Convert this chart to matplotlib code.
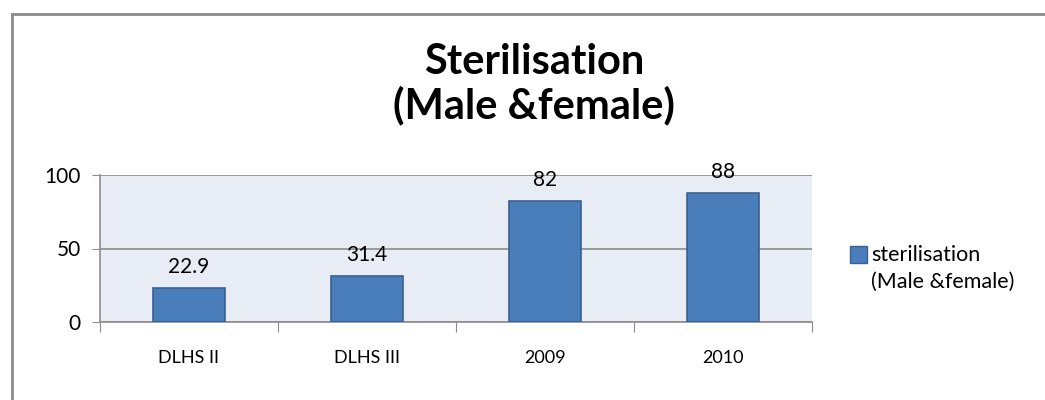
"""Sterilisation (Male & female) bar chart, Excel style."""

import matplotlib.pyplot as plt
from matplotlib.lines import Line2D
from matplotlib.patches import Rectangle

CATEGORIES = ["DLHS II", "DLHS III", "2009", "2010"]
VALUES = [22.9, 31.4, 82, 88]
VALUE_LABELS = ["22.9", "31.4", "82", "88"]
SERIES_NAME = ["sterilisation", "(Male &female)"]
TITLE = ["Sterilisation", "(Male &female)"]
Y_TICKS = [0, 50, 100]

plt.rcParams["font.family"] = ["Lato", "DejaVu Sans"]

BAR = "#4a7ebb"
EDGE = "#3a6190"
GRID = "#8c8c8c"

fig = plt.figure(figsize=(10.45, 4.0), dpi=100)
W, H = 1045, 400
ax = fig.add_axes([100 / W, 1 - 322 / H, 712 / W, 147 / H])
ax.set_facecolor("#e8ecf4")

x = range(len(CATEGORIES))
ax.bar(x, VALUES, width=0.4, color=BAR, edgecolor=EDGE, linewidth=1.2, zorder=3)
for xi, v, lab in zip(x, VALUES, VALUE_LABELS):
    ax.annotate(lab, (xi, v), xytext=(0, 8), textcoords="offset points", ha="center", va="bottom", fontsize=15)

ax.set_xlim(-0.5, len(CATEGORIES) - 0.5)
ax.set_ylim(0, 100)
ax.set_yticks(Y_TICKS)
ax.set_yticklabels([str(t) for t in Y_TICKS], fontsize=15)
ax.yaxis.grid(True, color=GRID, linewidth=1.2, zorder=1)
ax.set_axisbelow(True)
ax.tick_params(axis="y", length=6, color=GRID, pad=8)

# category labels centred, ticks on category boundaries
ax.set_xticks([i - 0.5 for i in range(len(CATEGORIES) + 1)])
ax.set_xticklabels([])
ax.set_xticks(list(x), minor=True)
ax.set_xticklabels(CATEGORIES, minor=True, fontsize=13)
ax.tick_params(axis="x", which="major", length=7, color=GRID)
ax.tick_params(axis="x", which="minor", length=0, pad=20)

for side in ("top", "right"):
    ax.spines[side].set_visible(False)
for side in ("left", "bottom"):
    ax.spines[side].set_color(GRID)
    ax.spines[side].set_linewidth(1.2)

fig.text(534 / W, 1 - 62 / H, TITLE[0], ha="center", va="center", fontsize=30, fontweight="bold")
fig.text(534 / W, 1 - 105 / H, TITLE[1], ha="center", va="center", fontsize=30, fontweight="bold")

# legend: square beside first line, second line wraps below
fig.add_artist(Rectangle((850 / W, 1 - 263 / H), 17 / W, 17 / H, transform=fig.transFigure,
                         facecolor=BAR, edgecolor=EDGE, linewidth=1))
fig.text(871 / W, 1 - 255 / H, SERIES_NAME[0], ha="left", va="center", fontsize=15.5)
fig.text(871 / W, 1 - 282 / H, SERIES_NAME[1], ha="left", va="center", fontsize=15.5)

# outer chart frame
fig.add_artist(Line2D([12 / W, 12 / W], [0, 1 - 14 / H], transform=fig.transFigure, color="#8c8c8c", linewidth=2))
fig.add_artist(Line2D([12 / W, 1], [1 - 14 / H, 1 - 14 / H], transform=fig.transFigure, color="#8c8c8c", linewidth=2))

fig.savefig("out.png", dpi=100)
